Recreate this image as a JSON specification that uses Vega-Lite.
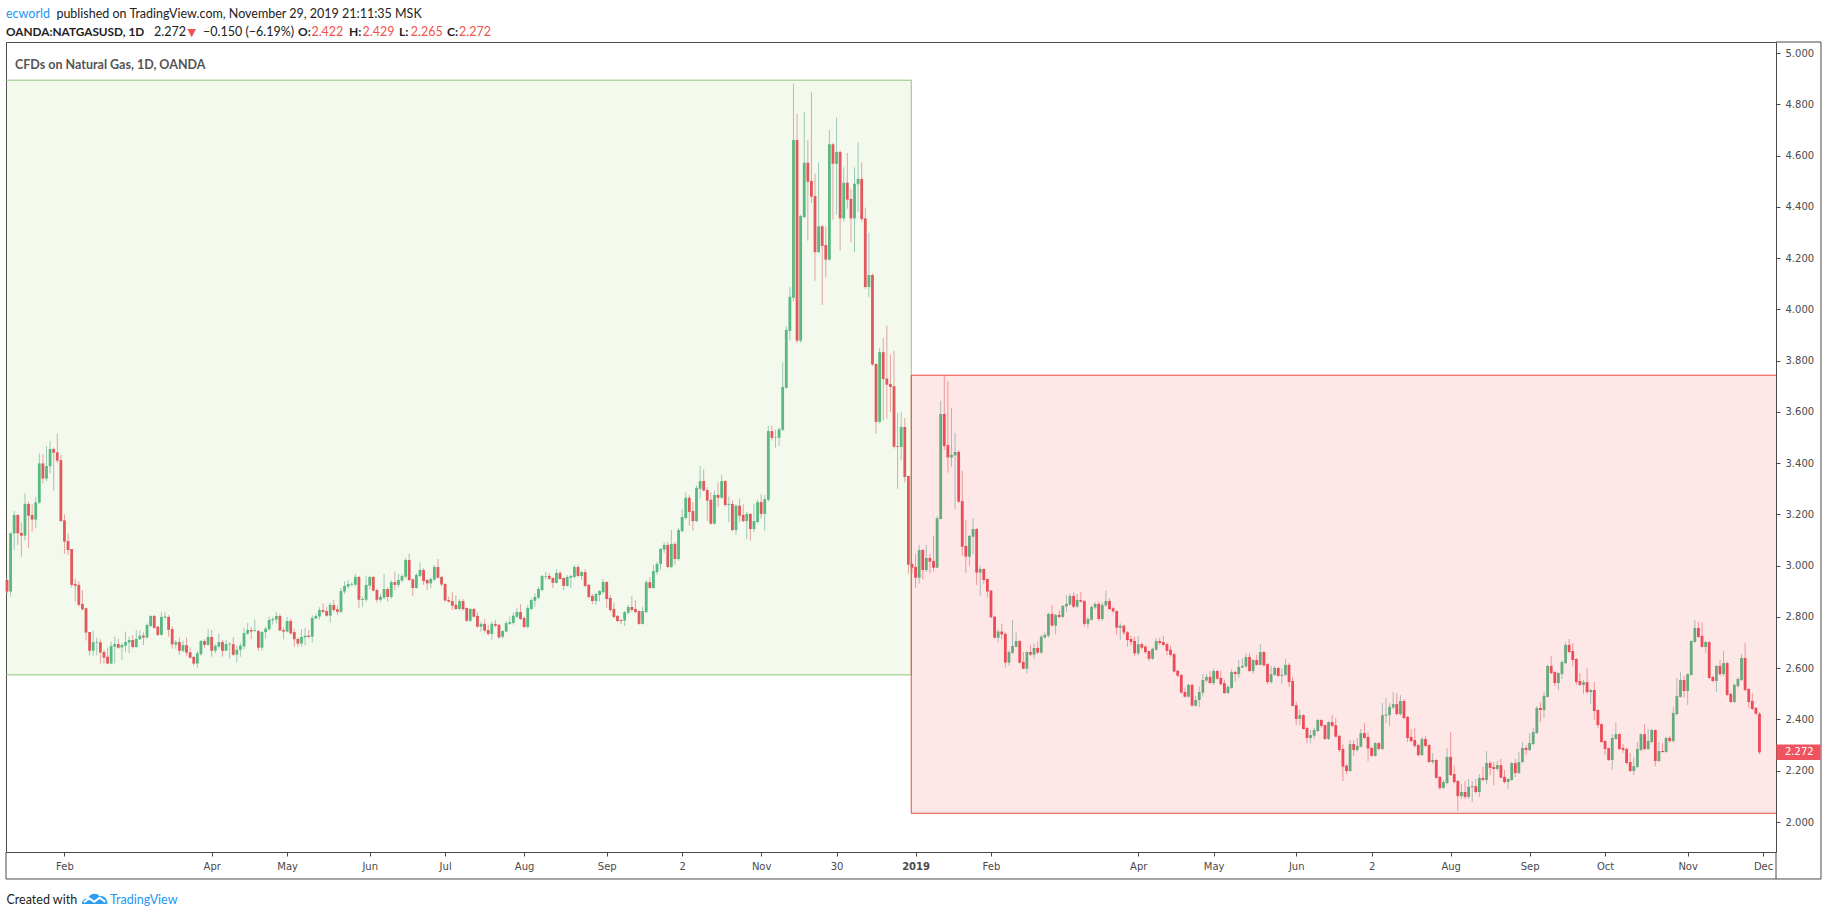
{
"$schema": "https://vega.github.io/schema/vega-lite/v6.json",
"width": 1770, "height": 810,
"autosize": {"type": "none"},
"padding": {"left": 6, "top": 42, "right": 52, "bottom": 64},
"background": "#ffffff",
"config": {"view": {"stroke": "#4a4a4a", "strokeWidth": 1}, "scale": {"continuousPadding": 0}},
"data": {"values": [{}]},
"datasets": {"candles": [
{"i":0,"o":2.944,"h":2.95,"l":2.89,"c":2.899},
{"i":1,"o":2.899,"h":3.13,"l":2.879,"c":3.126},
{"i":2,"o":3.126,"h":3.213,"l":3.061,"c":3.198},
{"i":3,"o":3.198,"h":3.2,"l":3.081,"c":3.126},
{"i":4,"o":3.128,"h":3.169,"l":3.035,"c":3.117},
{"i":5,"o":3.117,"h":3.282,"l":3.098,"c":3.241},
{"i":6,"o":3.241,"h":3.25,"l":3.068,"c":3.195},
{"i":7,"o":3.198,"h":3.24,"l":3.133,"c":3.18},
{"i":8,"o":3.18,"h":3.269,"l":3.146,"c":3.247},
{"i":9,"o":3.246,"h":3.438,"l":3.24,"c":3.399},
{"i":10,"o":3.399,"h":3.435,"l":3.321,"c":3.34},
{"i":11,"o":3.34,"h":3.467,"l":3.33,"c":3.389},
{"i":12,"o":3.388,"h":3.487,"l":3.36,"c":3.455},
{"i":13,"o":3.455,"h":3.46,"l":3.293,"c":3.441},
{"i":14,"o":3.442,"h":3.516,"l":3.4,"c":3.41},
{"i":15,"o":3.412,"h":3.432,"l":3.17,"c":3.174},
{"i":16,"o":3.177,"h":3.201,"l":3.046,"c":3.094},
{"i":17,"o":3.096,"h":3.126,"l":3.042,"c":3.061},
{"i":18,"o":3.065,"h":3.065,"l":2.915,"c":2.925},
{"i":19,"o":2.929,"h":2.95,"l":2.86,"c":2.922},
{"i":20,"o":2.925,"h":2.94,"l":2.84,"c":2.847},
{"i":21,"o":2.851,"h":2.905,"l":2.825,"c":2.83},
{"i":22,"o":2.834,"h":2.837,"l":2.708,"c":2.739},
{"i":23,"o":2.741,"h":2.741,"l":2.649,"c":2.668},
{"i":24,"o":2.668,"h":2.745,"l":2.649,"c":2.701},
{"i":25,"o":2.7,"h":2.72,"l":2.65,"c":2.703},
{"i":26,"o":2.701,"h":2.713,"l":2.618,"c":2.661},
{"i":27,"o":2.663,"h":2.671,"l":2.618,"c":2.641},
{"i":28,"o":2.645,"h":2.681,"l":2.616,"c":2.618},
{"i":29,"o":2.618,"h":2.704,"l":2.617,"c":2.687},
{"i":30,"o":2.684,"h":2.723,"l":2.618,"c":2.694},
{"i":31,"o":2.694,"h":2.714,"l":2.676,"c":2.68},
{"i":32,"o":2.681,"h":2.697,"l":2.632,"c":2.691},
{"i":33,"o":2.688,"h":2.743,"l":2.662,"c":2.702},
{"i":34,"o":2.7,"h":2.723,"l":2.658,"c":2.71},
{"i":35,"o":2.71,"h":2.73,"l":2.677,"c":2.683},
{"i":36,"o":2.683,"h":2.749,"l":2.68,"c":2.714},
{"i":37,"o":2.713,"h":2.749,"l":2.71,"c":2.727},
{"i":38,"o":2.727,"h":2.74,"l":2.69,"c":2.72},
{"i":39,"o":2.72,"h":2.775,"l":2.715,"c":2.769},
{"i":40,"o":2.765,"h":2.806,"l":2.76,"c":2.804},
{"i":41,"o":2.804,"h":2.808,"l":2.755,"c":2.757},
{"i":42,"o":2.762,"h":2.765,"l":2.725,"c":2.73},
{"i":43,"o":2.73,"h":2.82,"l":2.728,"c":2.8},
{"i":44,"o":2.798,"h":2.82,"l":2.79,"c":2.802},
{"i":45,"o":2.8,"h":2.807,"l":2.723,"c":2.75},
{"i":46,"o":2.753,"h":2.762,"l":2.676,"c":2.693},
{"i":47,"o":2.692,"h":2.71,"l":2.676,"c":2.702},
{"i":48,"o":2.702,"h":2.719,"l":2.652,"c":2.668},
{"i":49,"o":2.668,"h":2.707,"l":2.662,"c":2.69},
{"i":50,"o":2.69,"h":2.719,"l":2.648,"c":2.661},
{"i":51,"o":2.662,"h":2.681,"l":2.638,"c":2.641},
{"i":52,"o":2.644,"h":2.648,"l":2.61,"c":2.618},
{"i":53,"o":2.618,"h":2.667,"l":2.602,"c":2.658},
{"i":54,"o":2.655,"h":2.71,"l":2.648,"c":2.706},
{"i":55,"o":2.706,"h":2.713,"l":2.68,"c":2.691},
{"i":56,"o":2.691,"h":2.753,"l":2.687,"c":2.722},
{"i":57,"o":2.722,"h":2.749,"l":2.645,"c":2.668},
{"i":58,"o":2.668,"h":2.695,"l":2.658,"c":2.687},
{"i":59,"o":2.684,"h":2.737,"l":2.676,"c":2.702},
{"i":60,"o":2.702,"h":2.71,"l":2.645,"c":2.668},
{"i":61,"o":2.668,"h":2.71,"l":2.668,"c":2.694},
{"i":62,"o":2.693,"h":2.699,"l":2.637,"c":2.696},
{"i":63,"o":2.694,"h":2.722,"l":2.648,"c":2.653},
{"i":64,"o":2.653,"h":2.688,"l":2.622,"c":2.672},
{"i":65,"o":2.672,"h":2.699,"l":2.645,"c":2.688},
{"i":66,"o":2.685,"h":2.758,"l":2.673,"c":2.737},
{"i":67,"o":2.735,"h":2.776,"l":2.73,"c":2.749},
{"i":68,"o":2.749,"h":2.761,"l":2.713,"c":2.743},
{"i":69,"o":2.745,"h":2.79,"l":2.742,"c":2.748},
{"i":70,"o":2.745,"h":2.75,"l":2.668,"c":2.68},
{"i":71,"o":2.68,"h":2.745,"l":2.668,"c":2.741},
{"i":72,"o":2.741,"h":2.762,"l":2.715,"c":2.754},
{"i":73,"o":2.752,"h":2.801,"l":2.748,"c":2.788},
{"i":74,"o":2.787,"h":2.8,"l":2.77,"c":2.792},
{"i":75,"o":2.79,"h":2.819,"l":2.775,"c":2.804},
{"i":76,"o":2.804,"h":2.812,"l":2.745,"c":2.747},
{"i":77,"o":2.749,"h":2.76,"l":2.713,"c":2.743},
{"i":78,"o":2.743,"h":2.8,"l":2.74,"c":2.784},
{"i":79,"o":2.784,"h":2.792,"l":2.73,"c":2.736},
{"i":80,"o":2.741,"h":2.755,"l":2.684,"c":2.713},
{"i":81,"o":2.714,"h":2.72,"l":2.684,"c":2.696},
{"i":82,"o":2.696,"h":2.753,"l":2.684,"c":2.722},
{"i":83,"o":2.72,"h":2.757,"l":2.69,"c":2.727},
{"i":84,"o":2.727,"h":2.749,"l":2.717,"c":2.722},
{"i":85,"o":2.723,"h":2.808,"l":2.7,"c":2.796},
{"i":86,"o":2.794,"h":2.812,"l":2.79,"c":2.804},
{"i":87,"o":2.802,"h":2.838,"l":2.79,"c":2.827},
{"i":88,"o":2.827,"h":2.853,"l":2.815,"c":2.82},
{"i":89,"o":2.823,"h":2.838,"l":2.8,"c":2.805},
{"i":90,"o":2.805,"h":2.856,"l":2.778,"c":2.847},
{"i":91,"o":2.847,"h":2.866,"l":2.82,"c":2.827},
{"i":92,"o":2.83,"h":2.845,"l":2.808,"c":2.82},
{"i":93,"o":2.82,"h":2.914,"l":2.815,"c":2.901},
{"i":94,"o":2.899,"h":2.94,"l":2.89,"c":2.921},
{"i":95,"o":2.918,"h":2.944,"l":2.91,"c":2.929},
{"i":96,"o":2.926,"h":2.935,"l":2.92,"c":2.929},
{"i":97,"o":2.926,"h":2.968,"l":2.92,"c":2.956},
{"i":98,"o":2.956,"h":2.96,"l":2.836,"c":2.867},
{"i":99,"o":2.866,"h":2.88,"l":2.84,"c":2.87},
{"i":100,"o":2.867,"h":2.96,"l":2.86,"c":2.925},
{"i":101,"o":2.922,"h":2.96,"l":2.908,"c":2.956},
{"i":102,"o":2.956,"h":2.96,"l":2.9,"c":2.903},
{"i":103,"o":2.905,"h":2.911,"l":2.856,"c":2.867},
{"i":104,"o":2.867,"h":2.89,"l":2.858,"c":2.878},
{"i":105,"o":2.875,"h":2.968,"l":2.87,"c":2.909},
{"i":106,"o":2.909,"h":2.915,"l":2.86,"c":2.878},
{"i":107,"o":2.878,"h":2.944,"l":2.87,"c":2.936},
{"i":108,"o":2.936,"h":2.977,"l":2.905,"c":2.925},
{"i":109,"o":2.925,"h":2.968,"l":2.915,"c":2.944},
{"i":110,"o":2.942,"h":2.968,"l":2.935,"c":2.96},
{"i":111,"o":2.957,"h":3.03,"l":2.95,"c":3.022},
{"i":112,"o":3.022,"h":3.046,"l":2.94,"c":2.944},
{"i":113,"o":2.947,"h":2.95,"l":2.882,"c":2.913},
{"i":114,"o":2.913,"h":2.97,"l":2.91,"c":2.964},
{"i":115,"o":2.96,"h":3.012,"l":2.955,"c":2.983},
{"i":116,"o":2.983,"h":2.99,"l":2.925,"c":2.94},
{"i":117,"o":2.944,"h":2.95,"l":2.905,"c":2.931},
{"i":118,"o":2.931,"h":2.955,"l":2.912,"c":2.948},
{"i":119,"o":2.946,"h":3.003,"l":2.94,"c":2.995},
{"i":120,"o":2.995,"h":3.026,"l":2.95,"c":2.953},
{"i":121,"o":2.956,"h":2.96,"l":2.92,"c":2.927},
{"i":122,"o":2.929,"h":2.93,"l":2.86,"c":2.864},
{"i":123,"o":2.866,"h":2.879,"l":2.855,"c":2.86},
{"i":124,"o":2.862,"h":2.897,"l":2.827,"c":2.844},
{"i":125,"o":2.847,"h":2.884,"l":2.828,"c":2.831},
{"i":126,"o":2.831,"h":2.87,"l":2.825,"c":2.862},
{"i":127,"o":2.862,"h":2.87,"l":2.825,"c":2.83},
{"i":128,"o":2.835,"h":2.838,"l":2.78,"c":2.785},
{"i":129,"o":2.785,"h":2.835,"l":2.78,"c":2.831},
{"i":130,"o":2.831,"h":2.835,"l":2.797,"c":2.801},
{"i":131,"o":2.804,"h":2.818,"l":2.758,"c":2.762},
{"i":132,"o":2.762,"h":2.782,"l":2.743,"c":2.773},
{"i":133,"o":2.773,"h":2.792,"l":2.739,"c":2.747},
{"i":134,"o":2.749,"h":2.769,"l":2.727,"c":2.734},
{"i":135,"o":2.734,"h":2.782,"l":2.71,"c":2.773},
{"i":136,"o":2.773,"h":2.788,"l":2.76,"c":2.766},
{"i":137,"o":2.769,"h":2.772,"l":2.715,"c":2.72},
{"i":138,"o":2.723,"h":2.749,"l":2.715,"c":2.745},
{"i":139,"o":2.743,"h":2.785,"l":2.74,"c":2.776},
{"i":140,"o":2.773,"h":2.801,"l":2.77,"c":2.78},
{"i":141,"o":2.777,"h":2.818,"l":2.77,"c":2.805},
{"i":142,"o":2.801,"h":2.836,"l":2.795,"c":2.819},
{"i":143,"o":2.819,"h":2.85,"l":2.788,"c":2.792},
{"i":144,"o":2.796,"h":2.803,"l":2.755,"c":2.761},
{"i":145,"o":2.761,"h":2.847,"l":2.755,"c":2.835},
{"i":146,"o":2.831,"h":2.873,"l":2.825,"c":2.866},
{"i":147,"o":2.863,"h":2.892,"l":2.84,"c":2.878},
{"i":148,"o":2.875,"h":2.918,"l":2.87,"c":2.909},
{"i":149,"o":2.905,"h":2.964,"l":2.9,"c":2.96},
{"i":150,"o":2.957,"h":2.975,"l":2.944,"c":2.96},
{"i":151,"o":2.96,"h":2.971,"l":2.945,"c":2.949},
{"i":152,"o":2.952,"h":2.955,"l":2.913,"c":2.933},
{"i":153,"o":2.933,"h":2.987,"l":2.93,"c":2.972},
{"i":154,"o":2.972,"h":2.98,"l":2.945,"c":2.948},
{"i":155,"o":2.952,"h":2.955,"l":2.905,"c":2.921},
{"i":156,"o":2.921,"h":2.964,"l":2.918,"c":2.956},
{"i":157,"o":2.953,"h":2.963,"l":2.913,"c":2.96},
{"i":158,"o":2.956,"h":3.003,"l":2.95,"c":2.995},
{"i":159,"o":2.995,"h":3.003,"l":2.955,"c":2.96},
{"i":160,"o":2.96,"h":2.98,"l":2.944,"c":2.975},
{"i":161,"o":2.975,"h":2.987,"l":2.915,"c":2.921},
{"i":162,"o":2.925,"h":2.93,"l":2.872,"c":2.878},
{"i":163,"o":2.882,"h":2.89,"l":2.85,"c":2.862},
{"i":164,"o":2.862,"h":2.892,"l":2.847,"c":2.89},
{"i":165,"o":2.886,"h":2.905,"l":2.86,"c":2.901},
{"i":166,"o":2.897,"h":2.948,"l":2.89,"c":2.936},
{"i":167,"o":2.936,"h":2.94,"l":2.836,"c":2.87},
{"i":168,"o":2.874,"h":2.886,"l":2.82,"c":2.827},
{"i":169,"o":2.831,"h":2.855,"l":2.795,"c":2.8},
{"i":170,"o":2.804,"h":2.808,"l":2.78,"c":2.784},
{"i":171,"o":2.788,"h":2.79,"l":2.772,"c":2.784},
{"i":172,"o":2.786,"h":2.823,"l":2.765,"c":2.819},
{"i":173,"o":2.817,"h":2.848,"l":2.81,"c":2.839},
{"i":174,"o":2.839,"h":2.882,"l":2.82,"c":2.827},
{"i":175,"o":2.831,"h":2.866,"l":2.815,"c":2.819},
{"i":176,"o":2.823,"h":2.826,"l":2.77,"c":2.773},
{"i":177,"o":2.773,"h":2.839,"l":2.77,"c":2.823},
{"i":178,"o":2.819,"h":2.944,"l":2.815,"c":2.936},
{"i":179,"o":2.936,"h":2.956,"l":2.91,"c":2.913},
{"i":180,"o":2.913,"h":3.003,"l":2.91,"c":2.979},
{"i":181,"o":2.975,"h":3.014,"l":2.964,"c":3.007},
{"i":182,"o":3.007,"h":3.069,"l":2.983,"c":3.065},
{"i":183,"o":3.063,"h":3.092,"l":3.048,"c":3.081},
{"i":184,"o":3.081,"h":3.092,"l":2.99,"c":2.995},
{"i":185,"o":2.995,"h":3.139,"l":2.99,"c":3.085},
{"i":186,"o":3.085,"h":3.092,"l":3.003,"c":3.026},
{"i":187,"o":3.026,"h":3.147,"l":3.02,"c":3.139},
{"i":188,"o":3.135,"h":3.221,"l":3.13,"c":3.19},
{"i":189,"o":3.186,"h":3.286,"l":3.18,"c":3.265},
{"i":190,"o":3.265,"h":3.276,"l":3.156,"c":3.209},
{"i":191,"o":3.213,"h":3.248,"l":3.136,"c":3.174},
{"i":192,"o":3.174,"h":3.313,"l":3.17,"c":3.304},
{"i":193,"o":3.3,"h":3.39,"l":3.262,"c":3.33},
{"i":194,"o":3.33,"h":3.376,"l":3.29,"c":3.293},
{"i":195,"o":3.295,"h":3.306,"l":3.174,"c":3.254},
{"i":196,"o":3.257,"h":3.286,"l":3.159,"c":3.164},
{"i":197,"o":3.164,"h":3.293,"l":3.16,"c":3.276},
{"i":198,"o":3.276,"h":3.325,"l":3.23,"c":3.265},
{"i":199,"o":3.265,"h":3.355,"l":3.26,"c":3.33},
{"i":200,"o":3.33,"h":3.334,"l":3.23,"c":3.237},
{"i":201,"o":3.237,"h":3.27,"l":3.17,"c":3.241},
{"i":202,"o":3.241,"h":3.255,"l":3.135,"c":3.139},
{"i":203,"o":3.139,"h":3.24,"l":3.121,"c":3.234},
{"i":204,"o":3.234,"h":3.262,"l":3.17,"c":3.195},
{"i":205,"o":3.198,"h":3.24,"l":3.17,"c":3.174},
{"i":206,"o":3.174,"h":3.209,"l":3.105,"c":3.202},
{"i":207,"o":3.202,"h":3.205,"l":3.098,"c":3.143},
{"i":208,"o":3.143,"h":3.241,"l":3.131,"c":3.174},
{"i":209,"o":3.17,"h":3.258,"l":3.165,"c":3.248},
{"i":210,"o":3.248,"h":3.279,"l":3.184,"c":3.202},
{"i":211,"o":3.202,"h":3.276,"l":3.136,"c":3.259},
{"i":212,"o":3.257,"h":3.546,"l":3.25,"c":3.525},
{"i":213,"o":3.525,"h":3.547,"l":3.488,"c":3.499},
{"i":214,"o":3.499,"h":3.53,"l":3.46,"c":3.501},
{"i":215,"o":3.499,"h":3.54,"l":3.467,"c":3.532},
{"i":216,"o":3.53,"h":3.794,"l":3.525,"c":3.697},
{"i":217,"o":3.694,"h":3.934,"l":3.69,"c":3.92},
{"i":218,"o":3.916,"h":4.087,"l":3.878,"c":4.049},
{"i":219,"o":4.045,"h":4.881,"l":4.031,"c":4.661},
{"i":220,"o":4.661,"h":4.763,"l":3.867,"c":3.878},
{"i":221,"o":3.878,"h":4.37,"l":3.87,"c":4.364},
{"i":222,"o":4.36,"h":4.77,"l":4.355,"c":4.572},
{"i":223,"o":4.572,"h":4.661,"l":4.268,"c":4.498},
{"i":224,"o":4.501,"h":4.846,"l":4.415,"c":4.44},
{"i":225,"o":4.442,"h":4.529,"l":4.112,"c":4.223},
{"i":226,"o":4.223,"h":4.572,"l":4.22,"c":4.324},
{"i":227,"o":4.324,"h":4.33,"l":4.017,"c":4.247},
{"i":228,"o":4.251,"h":4.324,"l":4.124,"c":4.194},
{"i":229,"o":4.194,"h":4.7,"l":4.19,"c":4.644},
{"i":230,"o":4.644,"h":4.65,"l":4.35,"c":4.568},
{"i":231,"o":4.568,"h":4.747,"l":4.37,"c":4.614},
{"i":232,"o":4.614,"h":4.62,"l":4.23,"c":4.355},
{"i":233,"o":4.355,"h":4.554,"l":4.342,"c":4.494},
{"i":234,"o":4.494,"h":4.61,"l":4.393,"c":4.428},
{"i":235,"o":4.431,"h":4.47,"l":4.261,"c":4.355},
{"i":236,"o":4.355,"h":4.554,"l":4.222,"c":4.49},
{"i":237,"o":4.488,"h":4.651,"l":4.38,"c":4.509},
{"i":238,"o":4.509,"h":4.574,"l":4.342,"c":4.352},
{"i":239,"o":4.355,"h":4.397,"l":4.08,"c":4.087},
{"i":240,"o":4.087,"h":4.299,"l":4.048,"c":4.134},
{"i":241,"o":4.134,"h":4.14,"l":3.78,"c":3.785},
{"i":242,"o":3.787,"h":3.79,"l":3.515,"c":3.561},
{"i":243,"o":3.561,"h":3.85,"l":3.555,"c":3.833},
{"i":244,"o":3.833,"h":3.889,"l":3.567,"c":3.728},
{"i":245,"o":3.73,"h":3.936,"l":3.574,"c":3.706},
{"i":246,"o":3.709,"h":3.824,"l":3.599,"c":3.697},
{"i":247,"o":3.7,"h":3.838,"l":3.457,"c":3.464},
{"i":248,"o":3.466,"h":3.596,"l":3.3,"c":3.463},
{"i":249,"o":3.463,"h":3.6,"l":3.41,"c":3.541},
{"i":250,"o":3.541,"h":3.576,"l":3.325,"c":3.346},
{"i":251,"o":3.35,"h":3.35,"l":2.969,"c":3.004},
{"i":252,"o":3.007,"h":3.01,"l":2.97,"c":2.992},
{"i":253,"o":2.995,"h":3.046,"l":2.914,"c":2.953},
{"i":254,"o":2.953,"h":3.081,"l":2.93,"c":3.061},
{"i":255,"o":3.061,"h":3.065,"l":2.947,"c":2.983},
{"i":256,"o":2.983,"h":3.081,"l":2.975,"c":3.03},
{"i":257,"o":3.03,"h":3.046,"l":2.97,"c":3.016},
{"i":258,"o":3.018,"h":3.116,"l":2.977,"c":2.992},
{"i":259,"o":2.992,"h":3.194,"l":2.99,"c":3.185},
{"i":260,"o":3.182,"h":3.643,"l":3.18,"c":3.592},
{"i":261,"o":3.592,"h":3.744,"l":3.452,"c":3.467},
{"i":262,"o":3.47,"h":3.721,"l":3.363,"c":3.422},
{"i":263,"o":3.422,"h":3.615,"l":3.386,"c":3.432},
{"i":264,"o":3.43,"h":3.518,"l":3.221,"c":3.444},
{"i":265,"o":3.444,"h":3.45,"l":3.245,"c":3.25},
{"i":266,"o":3.252,"h":3.37,"l":3.038,"c":3.074},
{"i":267,"o":3.077,"h":3.178,"l":2.973,"c":3.035},
{"i":268,"o":3.035,"h":3.12,"l":2.999,"c":3.116},
{"i":269,"o":3.113,"h":3.186,"l":3.044,"c":3.143},
{"i":270,"o":3.143,"h":3.146,"l":2.925,"c":2.973},
{"i":271,"o":2.973,"h":3.0,"l":2.883,"c":2.987},
{"i":272,"o":2.987,"h":2.99,"l":2.93,"c":2.944},
{"i":273,"o":2.948,"h":2.95,"l":2.876,"c":2.899},
{"i":274,"o":2.903,"h":2.905,"l":2.795,"c":2.799},
{"i":275,"o":2.801,"h":2.805,"l":2.715,"c":2.719},
{"i":276,"o":2.719,"h":2.75,"l":2.7,"c":2.743},
{"i":277,"o":2.743,"h":2.773,"l":2.713,"c":2.732},
{"i":278,"o":2.734,"h":2.74,"l":2.603,"c":2.622},
{"i":279,"o":2.622,"h":2.67,"l":2.61,"c":2.663},
{"i":280,"o":2.66,"h":2.788,"l":2.655,"c":2.687},
{"i":281,"o":2.684,"h":2.739,"l":2.68,"c":2.706},
{"i":282,"o":2.706,"h":2.71,"l":2.618,"c":2.622},
{"i":283,"o":2.625,"h":2.663,"l":2.596,"c":2.598},
{"i":284,"o":2.598,"h":2.668,"l":2.58,"c":2.663},
{"i":285,"o":2.663,"h":2.69,"l":2.648,"c":2.653},
{"i":286,"o":2.653,"h":2.697,"l":2.635,"c":2.679},
{"i":287,"o":2.679,"h":2.704,"l":2.655,"c":2.661},
{"i":288,"o":2.661,"h":2.73,"l":2.655,"c":2.723},
{"i":289,"o":2.72,"h":2.74,"l":2.715,"c":2.73},
{"i":290,"o":2.727,"h":2.817,"l":2.72,"c":2.812},
{"i":291,"o":2.812,"h":2.847,"l":2.762,"c":2.766},
{"i":292,"o":2.766,"h":2.812,"l":2.732,"c":2.808},
{"i":293,"o":2.808,"h":2.825,"l":2.795,"c":2.8},
{"i":294,"o":2.8,"h":2.847,"l":2.795,"c":2.843},
{"i":295,"o":2.841,"h":2.886,"l":2.82,"c":2.851},
{"i":296,"o":2.848,"h":2.892,"l":2.845,"c":2.882},
{"i":297,"o":2.882,"h":2.896,"l":2.835,"c":2.84},
{"i":298,"o":2.84,"h":2.89,"l":2.835,"c":2.866},
{"i":299,"o":2.866,"h":2.896,"l":2.855,"c":2.86},
{"i":300,"o":2.862,"h":2.866,"l":2.762,"c":2.773},
{"i":301,"o":2.773,"h":2.8,"l":2.755,"c":2.792},
{"i":302,"o":2.789,"h":2.845,"l":2.785,"c":2.839},
{"i":303,"o":2.837,"h":2.857,"l":2.83,"c":2.851},
{"i":304,"o":2.851,"h":2.86,"l":2.785,"c":2.792},
{"i":305,"o":2.792,"h":2.857,"l":2.785,"c":2.847},
{"i":306,"o":2.845,"h":2.903,"l":2.84,"c":2.862},
{"i":307,"o":2.862,"h":2.873,"l":2.826,"c":2.831},
{"i":308,"o":2.834,"h":2.84,"l":2.815,"c":2.822},
{"i":309,"o":2.823,"h":2.826,"l":2.73,"c":2.758},
{"i":310,"o":2.758,"h":2.775,"l":2.71,"c":2.766},
{"i":311,"o":2.766,"h":2.77,"l":2.73,"c":2.739},
{"i":312,"o":2.74,"h":2.745,"l":2.684,"c":2.71},
{"i":313,"o":2.714,"h":2.726,"l":2.69,"c":2.702},
{"i":314,"o":2.706,"h":2.723,"l":2.648,"c":2.658},
{"i":315,"o":2.658,"h":2.726,"l":2.65,"c":2.694},
{"i":316,"o":2.694,"h":2.7,"l":2.672,"c":2.68},
{"i":317,"o":2.684,"h":2.69,"l":2.655,"c":2.663},
{"i":318,"o":2.667,"h":2.67,"l":2.628,"c":2.637},
{"i":319,"o":2.637,"h":2.68,"l":2.632,"c":2.676},
{"i":320,"o":2.672,"h":2.719,"l":2.668,"c":2.706},
{"i":321,"o":2.706,"h":2.719,"l":2.69,"c":2.698},
{"i":322,"o":2.702,"h":2.726,"l":2.685,"c":2.691},
{"i":323,"o":2.694,"h":2.7,"l":2.65,"c":2.668},
{"i":324,"o":2.672,"h":2.688,"l":2.645,"c":2.652},
{"i":325,"o":2.655,"h":2.66,"l":2.583,"c":2.587},
{"i":326,"o":2.59,"h":2.593,"l":2.565,"c":2.571},
{"i":327,"o":2.574,"h":2.577,"l":2.5,"c":2.505},
{"i":328,"o":2.507,"h":2.524,"l":2.485,"c":2.489},
{"i":329,"o":2.489,"h":2.54,"l":2.485,"c":2.535},
{"i":330,"o":2.535,"h":2.54,"l":2.45,"c":2.454},
{"i":331,"o":2.454,"h":2.492,"l":2.45,"c":2.476},
{"i":332,"o":2.476,"h":2.528,"l":2.45,"c":2.507},
{"i":333,"o":2.505,"h":2.577,"l":2.489,"c":2.554},
{"i":334,"o":2.552,"h":2.577,"l":2.545,"c":2.566},
{"i":335,"o":2.566,"h":2.589,"l":2.54,"c":2.542},
{"i":336,"o":2.542,"h":2.6,"l":2.535,"c":2.589},
{"i":337,"o":2.589,"h":2.593,"l":2.555,"c":2.559},
{"i":338,"o":2.562,"h":2.589,"l":2.532,"c":2.538},
{"i":339,"o":2.542,"h":2.554,"l":2.5,"c":2.503},
{"i":340,"o":2.503,"h":2.535,"l":2.5,"c":2.527},
{"i":341,"o":2.523,"h":2.596,"l":2.52,"c":2.585},
{"i":342,"o":2.585,"h":2.59,"l":2.548,"c":2.577},
{"i":343,"o":2.577,"h":2.632,"l":2.562,"c":2.605},
{"i":344,"o":2.603,"h":2.638,"l":2.6,"c":2.609},
{"i":345,"o":2.607,"h":2.659,"l":2.6,"c":2.644},
{"i":346,"o":2.644,"h":2.659,"l":2.585,"c":2.589},
{"i":347,"o":2.589,"h":2.637,"l":2.577,"c":2.632},
{"i":348,"o":2.632,"h":2.652,"l":2.61,"c":2.613},
{"i":349,"o":2.613,"h":2.694,"l":2.61,"c":2.663},
{"i":350,"o":2.663,"h":2.667,"l":2.607,"c":2.611},
{"i":351,"o":2.616,"h":2.62,"l":2.538,"c":2.546},
{"i":352,"o":2.546,"h":2.609,"l":2.54,"c":2.577},
{"i":353,"o":2.574,"h":2.609,"l":2.57,"c":2.601},
{"i":354,"o":2.601,"h":2.605,"l":2.565,"c":2.57},
{"i":355,"o":2.57,"h":2.601,"l":2.538,"c":2.574},
{"i":356,"o":2.574,"h":2.636,"l":2.57,"c":2.613},
{"i":357,"o":2.613,"h":2.62,"l":2.527,"c":2.546},
{"i":358,"o":2.55,"h":2.566,"l":2.45,"c":2.453},
{"i":359,"o":2.456,"h":2.468,"l":2.378,"c":2.402},
{"i":360,"o":2.402,"h":2.437,"l":2.378,"c":2.417},
{"i":361,"o":2.417,"h":2.421,"l":2.36,"c":2.363},
{"i":362,"o":2.367,"h":2.37,"l":2.307,"c":2.328},
{"i":363,"o":2.328,"h":2.359,"l":2.307,"c":2.339},
{"i":364,"o":2.337,"h":2.367,"l":2.324,"c":2.359},
{"i":365,"o":2.355,"h":2.402,"l":2.35,"c":2.398},
{"i":366,"o":2.398,"h":2.402,"l":2.368,"c":2.375},
{"i":367,"o":2.378,"h":2.38,"l":2.32,"c":2.324},
{"i":368,"o":2.324,"h":2.393,"l":2.32,"c":2.39},
{"i":369,"o":2.39,"h":2.417,"l":2.37,"c":2.375},
{"i":370,"o":2.378,"h":2.406,"l":2.33,"c":2.333},
{"i":371,"o":2.336,"h":2.34,"l":2.273,"c":2.281},
{"i":372,"o":2.285,"h":2.304,"l":2.16,"c":2.216},
{"i":373,"o":2.22,"h":2.225,"l":2.187,"c":2.199},
{"i":374,"o":2.199,"h":2.32,"l":2.195,"c":2.304},
{"i":375,"o":2.304,"h":2.32,"l":2.258,"c":2.281},
{"i":376,"o":2.281,"h":2.328,"l":2.275,"c":2.297},
{"i":377,"o":2.294,"h":2.363,"l":2.29,"c":2.347},
{"i":378,"o":2.347,"h":2.386,"l":2.324,"c":2.328},
{"i":379,"o":2.332,"h":2.351,"l":2.238,"c":2.287},
{"i":380,"o":2.289,"h":2.293,"l":2.254,"c":2.258},
{"i":381,"o":2.258,"h":2.312,"l":2.254,"c":2.308},
{"i":382,"o":2.308,"h":2.312,"l":2.28,"c":2.285},
{"i":383,"o":2.285,"h":2.464,"l":2.28,"c":2.417},
{"i":384,"o":2.415,"h":2.484,"l":2.386,"c":2.419},
{"i":385,"o":2.417,"h":2.464,"l":2.375,"c":2.449},
{"i":386,"o":2.447,"h":2.507,"l":2.44,"c":2.46},
{"i":387,"o":2.46,"h":2.504,"l":2.415,"c":2.421},
{"i":388,"o":2.421,"h":2.495,"l":2.415,"c":2.472},
{"i":389,"o":2.472,"h":2.48,"l":2.4,"c":2.406},
{"i":390,"o":2.41,"h":2.413,"l":2.312,"c":2.328},
{"i":391,"o":2.332,"h":2.363,"l":2.31,"c":2.316},
{"i":392,"o":2.32,"h":2.367,"l":2.29,"c":2.297},
{"i":393,"o":2.3,"h":2.305,"l":2.255,"c":2.261},
{"i":394,"o":2.261,"h":2.332,"l":2.258,"c":2.324},
{"i":395,"o":2.324,"h":2.336,"l":2.292,"c":2.297},
{"i":396,"o":2.3,"h":2.305,"l":2.23,"c":2.234},
{"i":397,"o":2.234,"h":2.269,"l":2.226,"c":2.242},
{"i":398,"o":2.242,"h":2.245,"l":2.168,"c":2.172},
{"i":399,"o":2.176,"h":2.18,"l":2.125,"c":2.133},
{"i":400,"o":2.133,"h":2.164,"l":2.128,"c":2.156},
{"i":401,"o":2.152,"h":2.289,"l":2.148,"c":2.254},
{"i":402,"o":2.254,"h":2.351,"l":2.18,"c":2.183},
{"i":403,"o":2.187,"h":2.219,"l":2.15,"c":2.156},
{"i":404,"o":2.16,"h":2.165,"l":2.043,"c":2.101},
{"i":405,"o":2.101,"h":2.148,"l":2.09,"c":2.117},
{"i":406,"o":2.117,"h":2.16,"l":2.09,"c":2.098},
{"i":407,"o":2.098,"h":2.168,"l":2.09,"c":2.137},
{"i":408,"o":2.136,"h":2.16,"l":2.078,"c":2.14},
{"i":409,"o":2.14,"h":2.168,"l":2.11,"c":2.117},
{"i":410,"o":2.117,"h":2.187,"l":2.098,"c":2.172},
{"i":411,"o":2.172,"h":2.215,"l":2.16,"c":2.164},
{"i":412,"o":2.164,"h":2.277,"l":2.148,"c":2.23},
{"i":413,"o":2.23,"h":2.238,"l":2.183,"c":2.211},
{"i":414,"o":2.215,"h":2.234,"l":2.144,"c":2.207},
{"i":415,"o":2.207,"h":2.238,"l":2.2,"c":2.222},
{"i":416,"o":2.222,"h":2.246,"l":2.17,"c":2.173},
{"i":417,"o":2.176,"h":2.203,"l":2.15,"c":2.156},
{"i":418,"o":2.156,"h":2.172,"l":2.129,"c":2.168},
{"i":419,"o":2.164,"h":2.234,"l":2.16,"c":2.23},
{"i":420,"o":2.23,"h":2.246,"l":2.175,"c":2.191},
{"i":421,"o":2.191,"h":2.273,"l":2.187,"c":2.234},
{"i":422,"o":2.234,"h":2.312,"l":2.23,"c":2.289},
{"i":423,"o":2.289,"h":2.3,"l":2.261,"c":2.281},
{"i":424,"o":2.281,"h":2.347,"l":2.277,"c":2.308},
{"i":425,"o":2.304,"h":2.367,"l":2.3,"c":2.351},
{"i":426,"o":2.347,"h":2.453,"l":2.343,"c":2.445},
{"i":427,"o":2.445,"h":2.468,"l":2.39,"c":2.437},
{"i":428,"o":2.437,"h":2.507,"l":2.406,"c":2.492},
{"i":429,"o":2.488,"h":2.613,"l":2.485,"c":2.609},
{"i":430,"o":2.609,"h":2.648,"l":2.577,"c":2.581},
{"i":431,"o":2.585,"h":2.59,"l":2.53,"c":2.542},
{"i":432,"o":2.542,"h":2.585,"l":2.515,"c":2.581},
{"i":433,"o":2.577,"h":2.63,"l":2.558,"c":2.624},
{"i":434,"o":2.62,"h":2.702,"l":2.615,"c":2.691},
{"i":435,"o":2.691,"h":2.714,"l":2.66,"c":2.663},
{"i":436,"o":2.667,"h":2.698,"l":2.608,"c":2.632},
{"i":437,"o":2.636,"h":2.64,"l":2.535,"c":2.546},
{"i":438,"o":2.55,"h":2.581,"l":2.53,"c":2.535},
{"i":439,"o":2.535,"h":2.554,"l":2.5,"c":2.546},
{"i":440,"o":2.546,"h":2.6,"l":2.5,"c":2.507},
{"i":441,"o":2.507,"h":2.52,"l":2.46,"c":2.515},
{"i":442,"o":2.515,"h":2.546,"l":2.398,"c":2.433},
{"i":443,"o":2.437,"h":2.44,"l":2.367,"c":2.378},
{"i":444,"o":2.382,"h":2.385,"l":2.308,"c":2.312},
{"i":445,"o":2.316,"h":2.32,"l":2.261,"c":2.285},
{"i":446,"o":2.288,"h":2.29,"l":2.238,"c":2.242},
{"i":447,"o":2.242,"h":2.343,"l":2.203,"c":2.328},
{"i":448,"o":2.324,"h":2.39,"l":2.32,"c":2.343},
{"i":449,"o":2.343,"h":2.346,"l":2.28,"c":2.285},
{"i":450,"o":2.289,"h":2.304,"l":2.27,"c":2.281},
{"i":451,"o":2.285,"h":2.29,"l":2.225,"c":2.23},
{"i":452,"o":2.234,"h":2.27,"l":2.195,"c":2.199},
{"i":453,"o":2.199,"h":2.254,"l":2.183,"c":2.218},
{"i":454,"o":2.215,"h":2.312,"l":2.21,"c":2.285},
{"i":455,"o":2.281,"h":2.346,"l":2.275,"c":2.343},
{"i":456,"o":2.343,"h":2.382,"l":2.28,"c":2.285},
{"i":457,"o":2.285,"h":2.363,"l":2.28,"c":2.316},
{"i":458,"o":2.312,"h":2.363,"l":2.308,"c":2.359},
{"i":459,"o":2.359,"h":2.36,"l":2.218,"c":2.238},
{"i":460,"o":2.238,"h":2.312,"l":2.234,"c":2.277},
{"i":461,"o":2.277,"h":2.308,"l":2.27,"c":2.273},
{"i":462,"o":2.273,"h":2.333,"l":2.27,"c":2.328},
{"i":463,"o":2.328,"h":2.336,"l":2.31,"c":2.316},
{"i":464,"o":2.316,"h":2.449,"l":2.31,"c":2.425},
{"i":465,"o":2.421,"h":2.562,"l":2.416,"c":2.492},
{"i":466,"o":2.488,"h":2.585,"l":2.485,"c":2.554},
{"i":467,"o":2.554,"h":2.57,"l":2.484,"c":2.511},
{"i":468,"o":2.511,"h":2.58,"l":2.457,"c":2.577},
{"i":469,"o":2.574,"h":2.71,"l":2.57,"c":2.706},
{"i":470,"o":2.702,"h":2.788,"l":2.7,"c":2.757},
{"i":471,"o":2.757,"h":2.78,"l":2.718,"c":2.722},
{"i":472,"o":2.726,"h":2.78,"l":2.68,"c":2.683},
{"i":473,"o":2.683,"h":2.706,"l":2.66,"c":2.702},
{"i":474,"o":2.702,"h":2.706,"l":2.558,"c":2.562},
{"i":475,"o":2.566,"h":2.57,"l":2.545,"c":2.55},
{"i":476,"o":2.55,"h":2.612,"l":2.507,"c":2.609},
{"i":477,"o":2.609,"h":2.632,"l":2.57,"c":2.577},
{"i":478,"o":2.577,"h":2.667,"l":2.57,"c":2.62},
{"i":479,"o":2.62,"h":2.625,"l":2.49,"c":2.496},
{"i":480,"o":2.5,"h":2.505,"l":2.465,"c":2.468},
{"i":481,"o":2.468,"h":2.54,"l":2.465,"c":2.535},
{"i":482,"o":2.53,"h":2.565,"l":2.525,"c":2.558},
{"i":483,"o":2.554,"h":2.655,"l":2.55,"c":2.64},
{"i":484,"o":2.64,"h":2.698,"l":2.51,"c":2.515},
{"i":485,"o":2.519,"h":2.522,"l":2.445,"c":2.468},
{"i":486,"o":2.472,"h":2.503,"l":2.436,"c":2.441},
{"i":487,"o":2.445,"h":2.448,"l":2.42,"c":2.422},
{"i":488,"o":2.422,"h":2.429,"l":2.265,"c":2.272}
]},
"layer": [
{"data": {"name": "candles"},
 "mark": {"type": "rule", "strokeWidth": 1},
 "encoding": {
  "x": {"field": "i", "type": "quantitative", "scale": {"domain": [-0.28, 492.6], "nice": false, "zero": false, "padding": 0},
   "axis": {"title": null, "grid": false, "domain": false, "tickSize": 4, "tickColor": "#4a4a4a",
    "values": [16,57,78,101,122,144,167,188,210,231,253,274,315,336,359,380,402,424,445,468,489],
    "labelExpr": "['Feb','Apr','May','Jun','Jul','Aug','Sep','2','Nov','30','2019','Feb','Apr','May','Jun','2','Aug','Sep','Oct','Nov','Dec'][indexof([16,57,78,101,122,144,167,188,210,231,253,274,315,336,359,380,402,424,445,468,489], datum.value)]",
    "labelFont": "DejaVu Sans", "labelFontSize": 10, "labelColor": "#4a4a4a", "labelPadding": 5,
    "labelFlush": false, "labelOverlap": false, "labelBound": false,
    "labelFontWeight": {"condition": {"test": "datum.value == 253", "value": "bold"}, "value": "normal"}}},
  "y": {"field": "l", "type": "quantitative", "scale": {"domain": [1.883, 5.043], "nice": false, "zero": false, "padding": 0},
   "axis": {"title": null, "orient": "right", "grid": false, "domain": false, "tickSize": 4, "tickColor": "#4a4a4a",
    "values": [2.0,2.2,2.4,2.6,2.8,3.0,3.2,3.4,3.6,3.8,4.0,4.2,4.4,4.6,4.8,5.0], "format": ".3f",
    "labelFont": "DejaVu Sans", "labelFontSize": 10, "labelColor": "#4a4a4a", "labelPadding": 5}},
  "y2": {"field": "h"},
  "color": {"condition": {"test": "datum.c >= datum.o", "value": "#9fcbc6"}, "value": "#f0a0a6"}
 }},
{"data": {"name": "candles"},
 "mark": {"type": "bar", "size": 2.8},
 "encoding": {
  "x": {"field": "i", "type": "quantitative"},
  "y": {"field": "o", "type": "quantitative"},
  "y2": {"field": "c"},
  "color": {"condition": {"test": "datum.c >= datum.o", "value": "#53b987"}, "value": "#eb4d5c"}
 }},
{"mark": {"type": "rect", "clip": true, "fill": "#8bc34a", "fillOpacity": 0.1, "stroke": "#8fc47f", "strokeWidth": 1},
 "encoding": {"x": {"datum": -5}, "x2": {"datum": 251.8}, "y": {"datum": 4.894}, "y2": {"datum": 2.574}}},
{"mark": {"type": "rect", "clip": true, "fill": "#f44336", "fillOpacity": 0.12, "stroke": "#ee4a3e", "strokeWidth": 1},
 "encoding": {"x": {"datum": 251.8}, "x2": {"datum": 600}, "y": {"datum": 3.743}, "y2": {"datum": 2.034}}},
{"mark": {"type": "rule", "color": "#4a4a4a", "strokeWidth": 1},
 "encoding": {"x": {"datum": 505.13}, "y": {"datum": 5.043}, "y2": {"datum": 1.7777}}},
{"mark": {"type": "rule", "color": "#4a4a4a", "strokeWidth": 1},
 "encoding": {"x": {"datum": 492.6}, "y": {"datum": 1.883}, "y2": {"datum": 1.7777}}},
{"mark": {"type": "rule", "color": "#4a4a4a", "strokeWidth": 1},
 "encoding": {"x": {"datum": -0.28}, "y": {"datum": 1.883}, "y2": {"datum": 1.7777}}},
{"mark": {"type": "rule", "color": "#4a4a4a", "strokeWidth": 1},
 "encoding": {"y": {"datum": 1.7777}, "x": {"datum": -0.28}, "x2": {"datum": 505.13}}},
{"mark": {"type": "rule", "color": "#4a4a4a", "strokeWidth": 1},
 "encoding": {"y": {"datum": 5.043}, "x": {"datum": 492.6}, "x2": {"datum": 505.13}}},
{"mark": {"type": "rect", "color": "#ef5360"},
 "encoding": {"x": {"datum": 492.7}, "x2": {"datum": 505.0}, "y": {"datum": 2.302}, "y2": {"datum": 2.242}}},
{"mark": {"type": "text", "align": "left", "baseline": "middle", "font": "DejaVu Sans", "fontSize": 10, "color": "#ffffff", "text": "2.272"},
 "encoding": {"x": {"datum": 495.1}, "y": {"datum": 2.272}}},
{"mark": {"type": "text", "align": "left", "baseline": "alphabetic", "font": "Lato", "fontSize": 12.5, "color": "#2196f3", "text": "ecworld"},
 "encoding": {"x": {"datum": -0.28}, "y": {"datum": 5.1366}}},
{"mark": {"type": "text", "align": "left", "baseline": "alphabetic", "font": "Lato", "fontSize": 12.5, "color": "#222222", "text": "published on TradingView.com, November 29, 2019 21:11:35 MSK"},
 "encoding": {"x": {"datum": 13.754}, "y": {"datum": 5.1366}}},
{"mark": {"type": "text", "align": "left", "baseline": "alphabetic", "font": "Lato", "fontSize": 11.8, "fontWeight": "bold", "color": "#222222", "text": "OANDA:NATGASUSD, 1D"},
 "encoding": {"x": {"datum": -0.28}, "y": {"datum": 5.0645}}},
{"mark": {"type": "text", "align": "left", "baseline": "alphabetic", "font": "Lato", "fontSize": 12.5, "color": "#222222", "text": "2.272"},
 "encoding": {"x": {"datum": 40.93}, "y": {"datum": 5.0645}}},
{"mark": {"type": "text", "align": "left", "baseline": "alphabetic", "font": "DejaVu Sans", "fontSize": 11, "color": "#ef5350", "text": "▼"},
 "encoding": {"x": {"datum": 50.26}, "y": {"datum": 5.0645}}},
{"mark": {"type": "text", "align": "left", "baseline": "alphabetic", "font": "Lato", "fontSize": 12.5, "color": "#222222", "text": "−0.150 (−6.19%)"},
 "encoding": {"x": {"datum": 54.58}, "y": {"datum": 5.0645}}},
{"mark": {"type": "text", "align": "left", "baseline": "alphabetic", "font": "Lato", "fontSize": 12, "fontWeight": "bold", "color": "#222222", "text": "O:"},
 "encoding": {"x": {"datum": 81.03}, "y": {"datum": 5.0645}}},
{"mark": {"type": "text", "align": "left", "baseline": "alphabetic", "font": "Lato", "fontSize": 12.5, "color": "#ef5350", "text": "2.422"},
 "encoding": {"x": {"datum": 84.76}, "y": {"datum": 5.0645}}},
{"mark": {"type": "text", "align": "left", "baseline": "alphabetic", "font": "Lato", "fontSize": 12, "fontWeight": "bold", "color": "#222222", "text": "H:"},
 "encoding": {"x": {"datum": 95.23}, "y": {"datum": 5.0645}}},
{"mark": {"type": "text", "align": "left", "baseline": "alphabetic", "font": "Lato", "fontSize": 12.5, "color": "#ef5350", "text": "2.429"},
 "encoding": {"x": {"datum": 98.99}, "y": {"datum": 5.0645}}},
{"mark": {"type": "text", "align": "left", "baseline": "alphabetic", "font": "Lato", "fontSize": 12, "fontWeight": "bold", "color": "#222222", "text": "L:"},
 "encoding": {"x": {"datum": 109.16}, "y": {"datum": 5.0645}}},
{"mark": {"type": "text", "align": "left", "baseline": "alphabetic", "font": "Lato", "fontSize": 12.5, "color": "#ef5350", "text": "2.265"},
 "encoding": {"x": {"datum": 112.41}, "y": {"datum": 5.0645}}},
{"mark": {"type": "text", "align": "left", "baseline": "alphabetic", "font": "Lato", "fontSize": 12, "fontWeight": "bold", "color": "#222222", "text": "C:"},
 "encoding": {"x": {"datum": 122.52}, "y": {"datum": 5.0645}}},
{"mark": {"type": "text", "align": "left", "baseline": "alphabetic", "font": "Lato", "fontSize": 12.5, "color": "#ef5350", "text": "2.272"},
 "encoding": {"x": {"datum": 125.86}, "y": {"datum": 5.0645}}},
{"mark": {"type": "text", "align": "left", "baseline": "alphabetic", "font": "Lato", "fontSize": 12.5, "fontWeight": "bold", "color": "#555555", "text": "CFDs on Natural Gas, 1D, OANDA"},
 "encoding": {"x": {"datum": 2.23}, "y": {"datum": 4.9377}}},
{"mark": {"type": "text", "align": "left", "baseline": "alphabetic", "font": "Lato", "fontSize": 12.5, "color": "#222222", "text": "Created with"},
 "encoding": {"x": {"datum": -0.14}, "y": {"datum": 1.6802}}},
{"mark": {"type": "point", "shape": "M-1,0.38 C-1,0.05 -0.75,-0.05 -0.55,0 C-0.4,-0.45 0.1,-0.5 0.35,-0.22 C0.7,-0.27 1,0 0.95,0.38 Z", "filled": true, "color": "#2e9cf0", "opacity": 1, "size": 676, "strokeWidth": 0},
 "encoding": {"x": {"datum": 24.5}, "y": {"datum": 1.6997}}},
{"mark": {"type": "point", "shape": "M-0.85,0.25 L-0.45,-0.05 L-0.05,0.22 L0.35,-0.1 L0.8,0.22", "filled": false, "color": "#ffffff", "opacity": 1, "size": 676, "strokeWidth": 2},
 "encoding": {"x": {"datum": 24.5}, "y": {"datum": 1.6997}}},
{"mark": {"type": "text", "align": "left", "baseline": "alphabetic", "font": "Lato", "fontSize": 12.5, "color": "#2196f3", "text": "TradingView"},
 "encoding": {"x": {"datum": 28.68}, "y": {"datum": 1.6802}}}
]
}
